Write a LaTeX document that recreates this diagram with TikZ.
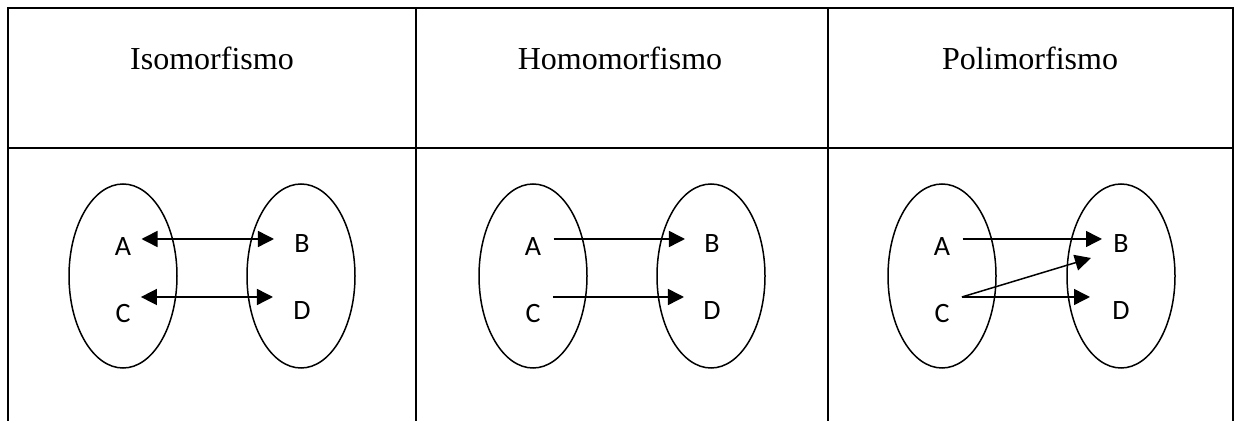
\documentclass[tikz,border=0pt]{standalone}
\usepackage{fontspec}
\setmainfont{Liberation Serif}
\newfontfamily\lettfont{Carlito}
\usepackage{tikz}
\usetikzlibrary{arrows.meta}
\tikzset{
  frame/.style={line width=1.2pt},
  setline/.style={line width=0.75pt},
  header/.style={anchor=base,font=\fontsize{16pt}{18pt}\selectfont},
  elem/.style={inner sep=0pt,font=\lettfont\fontsize{14pt}{16pt}\selectfont},
  maparrow/.style={line width=0.75pt,-{Triangle[length=8pt,width=8pt]}},
  pairarrow/.style={line width=0.75pt,{Triangle[length=8pt,width=8pt]}-{Triangle[length=8pt,width=8pt]}}
}

\begin{document}
\begin{tikzpicture}[x=0.5pt,y=-0.5pt,line cap=butt]
  \useasboundingbox (0,0) rectangle (1236,421);
  % table
  \draw[frame] (8,421) -- (8,8) -- (1233,8) -- (1233,421);
  \draw[frame] (8,148) -- (1233,148);
  \draw[frame] (416,8) -- (416,421);
  \draw[frame] (828,8) -- (828,421);
  \node[header] (t1) at (212,70) {Isomorfismo};
  \node[header] (t2) at (620,70) {Homomorfismo};
  \node[header] (t3) at (1030,70) {Polimorfismo};

  % sets
  \draw[setline] (123,276) ellipse [x radius=27pt,y radius=46pt];
  \draw[setline] (301,276) ellipse [x radius=27pt,y radius=46pt];
  \draw[setline] (533,276) ellipse [x radius=27pt,y radius=46pt];
  \draw[setline] (711,276) ellipse [x radius=27pt,y radius=46pt];
  \draw[setline] (942,276) ellipse [x radius=27pt,y radius=46pt];
  \draw[setline] (1121,276) ellipse [x radius=27pt,y radius=46pt];

  \node[elem] (A1) at (123,247) {A};
  \node[elem] (C1) at (123,314) {C};
  \node[elem] (B1) at (302,244) {B};
  \node[elem] (D1) at (302,311) {D};
  \node[elem] (A2) at (533,247) {A};
  \node[elem] (C2) at (533,314) {C};
  \node[elem] (B2) at (712,244) {B};
  \node[elem] (D2) at (712,311) {D};
  \node[elem] (A3) at (942,247) {A};
  \node[elem] (C3) at (942,314) {C};
  \node[elem] (B3) at (1121,244) {B};
  \node[elem] (D3) at (1121,311) {D};

  % mappings
  \draw[pairarrow] ([shift={(10,-8)}]A1.east) -- ([shift={(-20,-5)}]B1.west);
  \draw[pairarrow] ([shift={(10,-17)}]C1.east) -- ([shift={(-20,-14)}]D1.west);
  \draw[maparrow] ([shift={(12,-8)}]A2.east) -- ([shift={(-19,-5)}]B2.west);
  \draw[maparrow] ([shift={(12,-17)}]C2.east) -- ([shift={(-19,-14)}]D2.west);
  \draw[maparrow] ([shift={(12,-8)}]A3.east) -- ([shift={(-11,-5)}]B3.west);
  \draw[maparrow] ([shift={(12,-17)}]C3.east) -- ([shift={(-22,14)}]B3.west);
  \draw[maparrow] ([shift={(12,-17)}]C3.east) -- ([shift={(-22,-14)}]D3.west);
\end{tikzpicture}
\end{document}
